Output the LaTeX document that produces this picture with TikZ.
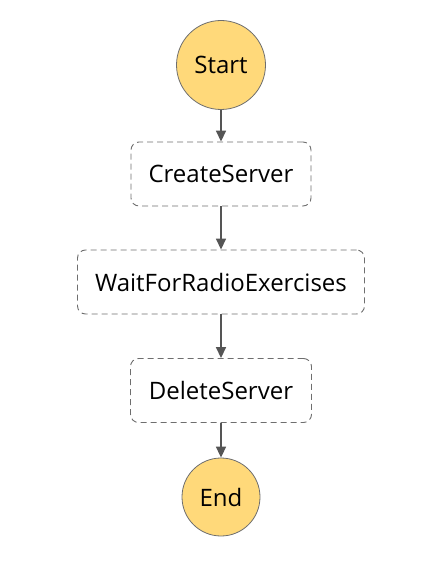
\documentclass[tikz,border=0pt]{standalone}
\usepackage{fontspec}
\setmainfont{Open Sans}
\usetikzlibrary{arrows.meta}
\definecolor{startfill}{HTML}{FFD97A}
\definecolor{edgegray}{HTML}{6E6E6E}
\definecolor{arrowgray}{HTML}{555555}
\begin{document}
\begin{tikzpicture}[x=1pt,y=-1pt,
  term/.style={circle, draw=edgegray, line width=0.8pt, fill=startfill, font=\fontsize{24}{28}\selectfont, inner sep=0pt},
  state/.style={draw=edgegray, dash pattern=on 6pt off 4pt, line width=0.9pt, rounded corners=8pt, font=\fontsize{24}{28}\selectfont, inner sep=0pt},
  flow/.style={draw=arrowgray, line width=1.6pt, -{Triangle[length=11pt,width=10pt]}}]
\useasboundingbox (0,0) rectangle (441,588);
\node[term, minimum size=89pt] (start) at (221,65) {Start};
\node[state, minimum width=180pt, minimum height=64pt] (create) at (221,174) {CreateServer};
\node[state, minimum width=287pt, minimum height=64pt] (wait) at (221,282) {WaitForRadioExercises};
\node[state, minimum width=181pt, minimum height=64pt] (delete) at (221,390.5) {DeleteServer};
\node[term, minimum size=78pt] (end) at (221,497) {End};
\draw[flow] (start) -- (create);
\draw[flow] (create) -- (wait);
\draw[flow] (wait) -- (delete);
\draw[flow] (delete) -- (end);
\end{tikzpicture}
\end{document}
